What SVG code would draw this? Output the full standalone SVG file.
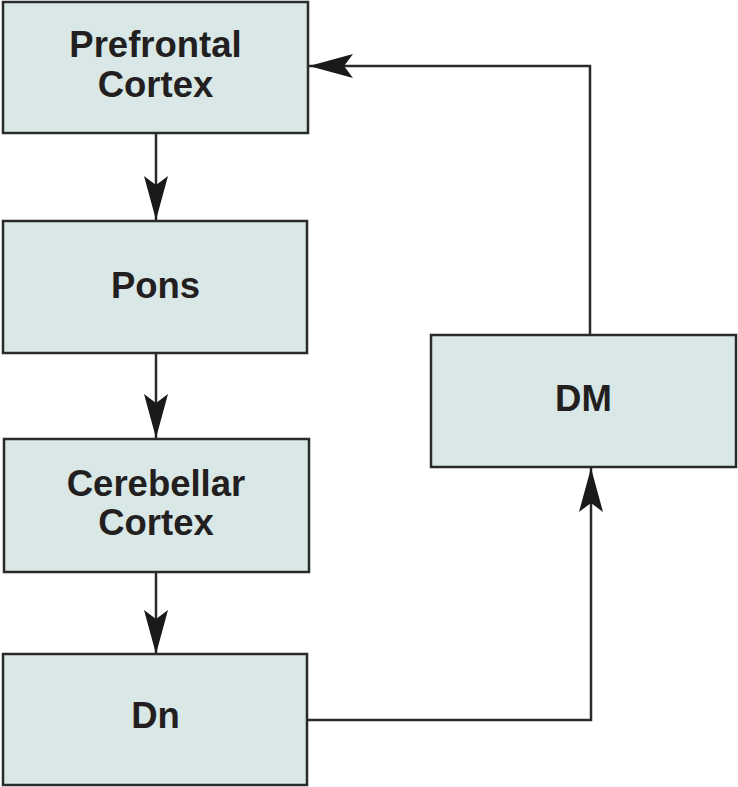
<svg xmlns="http://www.w3.org/2000/svg" width="738" height="787" viewBox="0 0 738 787">
<style>
.box{fill:#d9e7e7;stroke:#2a2a2a;stroke-width:2.5}
.lbl{font-family:"Liberation Sans",Arial,sans-serif;font-weight:bold;font-size:36.5px;fill:#231f20;text-anchor:middle}
.con{fill:none;stroke:#2a2a2a;stroke-width:2.5}
</style>
<defs>
<marker id="ah" viewBox="0 0 44 24" refX="44" refY="12" markerWidth="44" markerHeight="24" markerUnits="userSpaceOnUse" orient="auto">
<path d="M0,0 L44,12 L0,24 L9,12 Z" fill="#1a1a1a"/>
</marker>
</defs>
<rect width="738" height="787" fill="#fff"/>
<g id="connectors">
<line class="con" x1="156" y1="134" x2="156" y2="220" marker-end="url(#ah)"/>
<line class="con" x1="156" y1="353" x2="156" y2="438" marker-end="url(#ah)"/>
<line class="con" x1="156" y1="572" x2="156" y2="654" marker-end="url(#ah)"/>
<polyline class="con" points="307,720 591,720 591,468" marker-end="url(#ah)"/>
<polyline class="con" points="590,335 590,66 309,66" marker-end="url(#ah)"/>
</g>
<g id="prefrontal">
<rect class="box" x="3" y="2" width="305" height="131"/>
<text class="lbl" x="155.5" y="57">Prefrontal</text>
<text class="lbl" x="155.5" y="97">Cortex</text>
</g>
<g id="pons">
<rect class="box" x="3" y="221" width="304" height="132"/>
<text class="lbl" x="155.5" y="298">Pons</text>
</g>
<g id="cerebellar">
<rect class="box" x="4" y="439" width="305" height="133"/>
<text class="lbl" x="156" y="496">Cerebellar</text>
<text class="lbl" x="156" y="535">Cortex</text>
</g>
<g id="dn">
<rect class="box" x="3" y="654" width="304" height="131"/>
<text class="lbl" x="155.5" y="728">Dn</text>
</g>
<g id="dm">
<rect class="box" x="431" y="335" width="305" height="132"/>
<text class="lbl" x="583.5" y="411">DM</text>
</g>
</svg>
